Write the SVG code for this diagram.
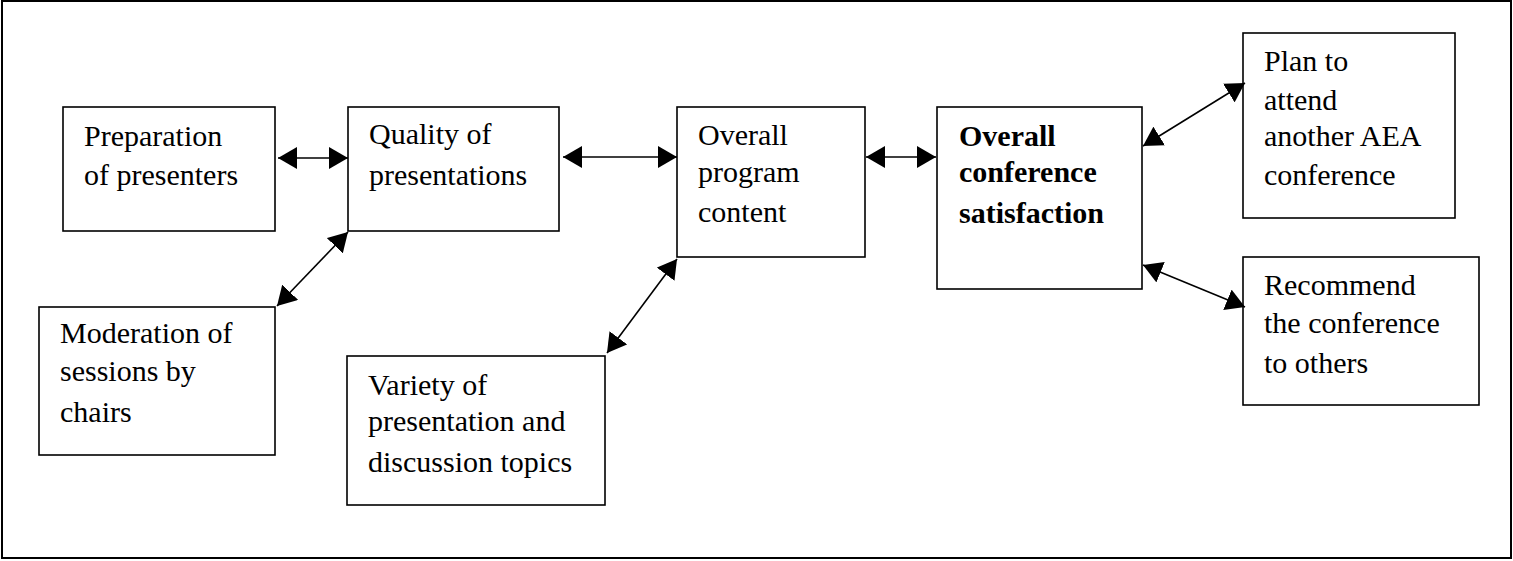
<svg xmlns="http://www.w3.org/2000/svg" width="1513" height="561" viewBox="0 0 1513 561">
  <style>
    .box { fill: #ffffff; stroke: #000000; stroke-width: 1.6; }
    .frame { fill: #ffffff; stroke: #000000; stroke-width: 2; }
    .t { font-family: "Liberation Serif", "Times New Roman", serif; font-size: 30px; fill: #000000; }
    .b { font-weight: bold; }
    .conn { stroke: #000000; stroke-width: 1.6; fill: none; marker-start: url(#ah); marker-end: url(#ah); }
  </style>
  <defs>
    <marker id="ah" markerUnits="userSpaceOnUse" markerWidth="20" markerHeight="22" refX="19" refY="11" orient="auto-start-reverse" viewBox="0 0 20 22">
      <path d="M0,0 L19,11 L0,22 z" fill="#000000"/>
    </marker>
  </defs>
  <rect class="frame" x="2" y="1" width="1509" height="557"/>

  <g id="prep">
    <rect class="box" x="63" y="107" width="212" height="124"/>
    <text class="t" x="84" y="146">Preparation</text>
    <text class="t" x="84" y="185">of presenters</text>
  </g>
  <g id="quality">
    <rect class="box" x="348" y="107" width="211" height="124"/>
    <text class="t" x="369" y="144">Quality of</text>
    <text class="t" x="369" y="185">presentations</text>
  </g>
  <g id="program">
    <rect class="box" x="677" y="107" width="188" height="150"/>
    <text class="t" x="698" y="145">Overall</text>
    <text class="t" x="698" y="182">program</text>
    <text class="t" x="698" y="222">content</text>
  </g>
  <g id="satisfaction">
    <rect class="box" x="937" y="107" width="205" height="182"/>
    <text class="t b" x="959" y="146">Overall</text>
    <text class="t b" x="959" y="182">conference</text>
    <text class="t b" x="959" y="223">satisfaction</text>
  </g>
  <g id="plan">
    <rect class="box" x="1243" y="33" width="212" height="185"/>
    <text class="t" x="1264" y="71">Plan to</text>
    <text class="t" x="1264" y="110">attend</text>
    <text class="t" x="1264" y="146">another AEA</text>
    <text class="t" x="1264" y="185">conference</text>
  </g>
  <g id="recommend">
    <rect class="box" x="1243" y="257" width="236" height="148"/>
    <text class="t" x="1264" y="295">Recommend</text>
    <text class="t" x="1264" y="333">the conference</text>
    <text class="t" x="1264" y="373">to others</text>
  </g>
  <g id="moderation">
    <rect class="box" x="39" y="307" width="236" height="148"/>
    <text class="t" x="60" y="343">Moderation of</text>
    <text class="t" x="60" y="381">sessions by</text>
    <text class="t" x="60" y="422">chairs</text>
  </g>
  <g id="variety">
    <rect class="box" x="347" y="356" width="258" height="149"/>
    <text class="t" x="368" y="395">Variety of</text>
    <text class="t" x="368" y="431">presentation and</text>
    <text class="t" x="368" y="472">discussion topics</text>
  </g>

  <g id="connectors">
    <line class="conn" x1="278" y1="158" x2="348" y2="158"/>
    <line class="conn" x1="563" y1="157" x2="677" y2="157"/>
    <line class="conn" x1="866" y1="157" x2="936" y2="157"/>
    <line class="conn" x1="277" y1="306" x2="348" y2="232"/>
    <line class="conn" x1="607" y1="353" x2="677" y2="259"/>
    <line class="conn" x1="1143" y1="146" x2="1245" y2="83"/>
    <line class="conn" x1="1143" y1="265" x2="1245" y2="307"/>
  </g>
</svg>
